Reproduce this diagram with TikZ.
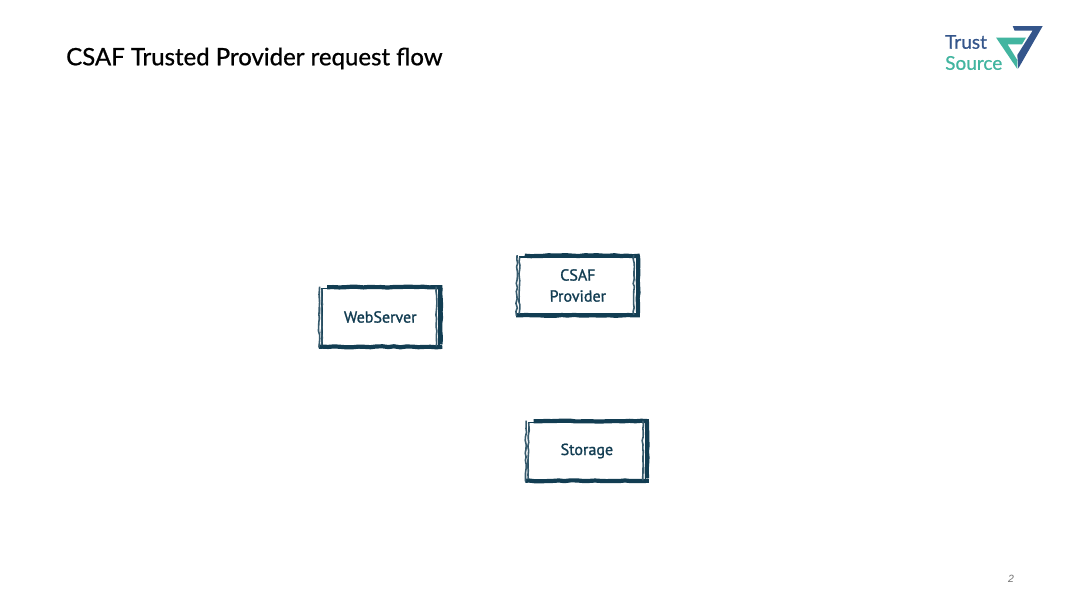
\documentclass[tikz,border=0pt]{standalone}
\usepackage{fontspec}
\setmainfont{Lato}
\newfontfamily\titlefont{Lato}[FakeBold=0.8]
\newfontfamily\logofont{Lato}[FakeBold=0.6]
\newfontfamily\handfont{PT Sans}[FakeBold=1.3,FakeSlant=-0.03]
\newfontfamily\pagefont{Liberation Sans}
\usetikzlibrary{decorations.pathmorphing,calc}
\definecolor{ink}{HTML}{123D52}
\definecolor{tsblue}{HTML}{34558B}
\definecolor{tsteal}{HTML}{42B5A0}
\tikzset{
  roughbox/.style={draw=ink,line width=1.6pt,fill=white,minimum width=117pt,minimum height=57pt,align=center,text=ink,font=\handfont\fontsize{16}{21}\selectfont,inner sep=0pt},
  heavy/.style={draw=ink,line width=4.2pt,decorate,decoration={random steps,segment length=6pt,amplitude=.5pt}},
  light/.style={draw=ink!85,line width=1.6pt,decorate,decoration={random steps,segment length=4pt,amplitude=.7pt}},
  title/.style={font=\titlefont\fontsize{24}{28}\selectfont,text=black,anchor=west,inner sep=0pt},
  logotext/.style={font=\logofont\fontsize{19}{20}\selectfont,anchor=west,inner sep=0pt}
}
\newcommand{\sketchframe}[1]{%
  \draw[heavy] ($(#1.north west)+(6pt,0.5pt)$) -- ($(#1.north east)+(2.5pt,0.5pt)$);
  \draw[heavy] ($(#1.north east)+(0.8pt,0pt)$) -- ($(#1.south east)+(0.8pt,2pt)$);
  \draw[heavy] ($(#1.south east)+(2.5pt,-0.5pt)$) -- ($(#1.south west)+(-2.5pt,-0.5pt)$);
  \draw[light] ($(#1.north west)+(-1.6pt,1pt)$) -- ($(#1.south west)+(-2.2pt,-1pt)$);
  \draw[light] ($(#1.north west)+(1pt,-1pt)$) -- ($(#1.south west)+(0.4pt,1pt)$);
  \draw[light] ($(#1.north east)+(-3.5pt,1pt)$) -- ($(#1.south east)+(-3.5pt,0pt)$);
}
\begin{document}
\begin{tikzpicture}[x=1pt,y=-1pt]
\pgfmathsetseed{7}
\useasboundingbox (0,0) rectangle (1080,608);
\fill[white] (0,0) rectangle (1080,608);
\node[title] (heading) at (66,58.5) {CSAF Trusted Provider request flow};
% logo
\fill[tsblue] (1012.7,26) -- (1042.7,26) -- (1018.3,68.5) -- (1017.3,55) -- (1032.7,30.5) -- (1014.5,30.5) -- cycle;
\fill[tsteal] (996,37.5) -- (1026,37.5) -- (1022,44.3) -- (1007.5,44.3) -- (1017.3,60) -- (1017.3,69) -- cycle;
\node[logotext,text=tsblue] (trust) at (945,42) {Trust};
\node[logotext,text=tsteal] (source) at (945,63) {Source};
% boxes
\node[roughbox] (web) at (380.5,317) {WebServer};
\node[roughbox] (csaf) at (578,285.5) {CSAF\\Provider};
\node[roughbox] (store) at (587,451) {Storage};
\sketchframe{web}
\sketchframe{csaf}
\sketchframe{store}
\node[font=\pagefont\itshape\fontsize{10.5}{12}\selectfont,text=black!55,inner sep=0pt] (page) at (1011,579) {2};
\end{tikzpicture}
\end{document}
